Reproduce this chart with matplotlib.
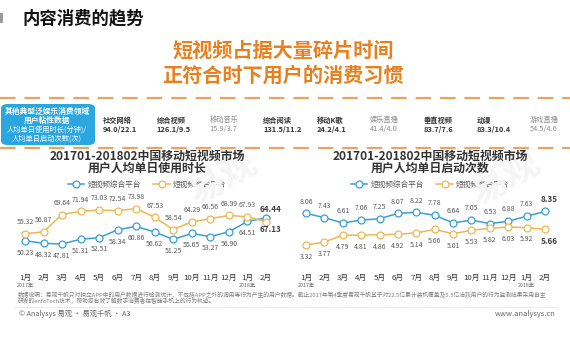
import matplotlib
matplotlib.use("Agg")
import matplotlib.pyplot as plt
from matplotlib.patches import FancyBboxPatch, Rectangle
from matplotlib.lines import Line2D
from matplotlib.transforms import blended_transform_factory

plt.rcParams['font.family'] = ['Noto Sans CJK SC', 'DejaVu Sans']

# ---------------------------------------------------------
# data
# ---------------------------------------------------------
months = ["1月", "2月", "3月", "4月", "5月", "6月", "7月", "8月",
          "9月", "10月", "11月", "12月", "1月", "2月"]

time_general = [50.23, 48.32, 47.81, 51.31, 52.51, 58.34, 60.86, 56.62,
                51.25, 55.65, 53.27, 56.90, 64.51, 67.13]
time_aggr = [55.32, 56.87, 69.64, 71.94, 73.03, 72.54, 73.98, 67.53,
             58.54, 64.29, 66.56, 68.99, 67.93, 64.44]

launch_general = [8.06, 7.43, 6.61, 7.06, 7.25, 8.07, 8.22, 7.78,
                  6.64, 7.05, 6.53, 6.88, 7.63, 8.35]
launch_aggr = [3.32, 3.77, 4.79, 4.81, 4.86, 4.92, 5.14, 5.66,
               5.01, 5.53, 5.82, 6.03, 5.92, 5.66]

series_names = ["短视频综合平台", "短视频聚合平台"]

fields = ["社交网络", "综合视频", "移动音乐", "综合阅读", "移动K歌",
          "娱乐直播", "垂直视频", "动漫", "游戏直播"]
field_values = ["94.0/22.1", "126.1/9.5", "15.9/3.7", "131.5/11.2", "24.2/4.1",
                "41.4/4.0", "83.7/7.6", "83.3/10.4", "54.5/4.6"]
field_muted = [False, False, True, False, False, True, False, False, True]

BLUE = "#3A9FD3"
YELLOW = "#EDB853"
ORANGE = "#E8801E"
GRAY = "#595959"

W, H = 570, 360


def fx(x):
    return x / W


def fy(y):
    return 1 - y / H


fig = plt.figure(figsize=(5.7, 3.6), dpi=100)

# ---------------------------------------------------------
# header
# ---------------------------------------------------------
fig.patches.append(Rectangle((0, fy(23)), fx(3), 10 / H, transform=fig.transFigure,
                             color="#9A9A9A", lw=0))
fig.text(fx(22), fy(18), "内容消费的趋势", fontsize=12.5, fontweight="bold",
         color="#111111", va="center", ha="left")

fig.text(fx(283), fy(50), "短视频占据大量碎片时间", fontsize=14.5, fontweight="bold",
         color=ORANGE, va="center", ha="center")
fig.text(fx(283), fy(75), "正符合时下用户的消费习惯", fontsize=14.5, fontweight="bold",
         color=ORANGE, va="center", ha="center")

for yy in (97.5, 148):
    fig.lines.append(Line2D([0, 1], [fy(yy), fy(yy)], transform=fig.transFigure,
                            color="#E9A463", lw=1.6, dashes=(7, 4)))

# blue info box
box = FancyBboxPatch((fx(1), fy(145)), fx(94), 41 / H, transform=fig.transFigure,
                     boxstyle="round,pad=0,rounding_size=0.012",
                     fc="#2AA7E1", ec="none")
fig.patches.append(box)
fig.text(fx(47), fy(111.5), "其他典型泛娱乐消费领域", fontsize=5.6, fontweight="bold",
         color="white", ha="center", va="center")
fig.text(fx(47), fy(120.5), "用户粘性数据", fontsize=5.6, fontweight="bold",
         color="white", ha="center", va="center")
fig.text(fx(47), fy(130), "人均单日使用时长(分钟)/", fontsize=5.2,
         color="white", ha="center", va="center")
fig.text(fx(47), fy(138.5), "人均单日启动次数(次)", fontsize=5.2,
         color="white", ha="center", va="center")

for i, (name, val, muted) in enumerate(zip(fields, field_values, field_muted)):
    x0 = 103 + i * 53.4
    col = "#8C8C8C" if muted else "#333333"
    wt = "normal" if muted else "bold"
    fig.text(fx(x0), fy(120), name, fontsize=5.2, color=col, fontweight=wt,
             ha="left", va="center")
    fig.text(fx(x0), fy(129), val, fontsize=5.4, color=col, fontweight=wt,
             ha="left", va="center")

# faint watermark
fig.text(fx(222), fy(178), "易观", fontsize=26, color="#F5F5F5", rotation=30,
         ha="center", va="center", zorder=0, fontweight="bold")
fig.text(fx(505), fy(178), "易观", fontsize=26, color="#F5F5F5", rotation=30,
         ha="center", va="center", zorder=0, fontweight="bold")


# ---------------------------------------------------------
# charts
# ---------------------------------------------------------
def draw_chart(left_px, width_px, x_first, x_last, ylim, s1, s1_up, s2, s2_up,
               fmt, title2, title_x):
    ax = fig.add_axes([fx(left_px), fy(272), fx(width_px), 77 / H])
    ax.patch.set_alpha(0)
    step = (x_last - x_first) / 13
    ax.set_xlim(-(x_first - left_px) / step, 13 + (left_px + width_px - x_last) / step)
    ax.set_ylim(*ylim)
    for s in ax.spines.values():
        s.set_visible(False)
    ax.set_yticks([])
    idx = list(range(len(months)))
    ax.set_xticks(idx)
    ax.set_xticklabels(months, fontsize=5.6, color="#333333")
    ax.tick_params(axis="x", length=0, pad=1.5)

    trans = blended_transform_factory(ax.transData, ax.transAxes)
    ax.text(0, -0.17, "2017年", fontsize=3.8, color="#666666", ha="center",
            va="center", transform=trans)
    ax.text(12, -0.17, "2018年", fontsize=3.8, color="#666666", ha="center",
            va="center", transform=trans)

    handles = []
    for vals, up, col, name in ((s1, s1_up, BLUE, series_names[0]),
                                (s2, s2_up, YELLOW, series_names[1])):
        ln, = ax.plot(idx, vals, color=col, lw=1.1, marker="o", markersize=5,
                      markerfacecolor="white", markeredgecolor=col,
                      markeredgewidth=0.9, label=name, zorder=3)
        handles.append(ln)
        for i, v in enumerate(vals):
            off = 8.5 if up else -8.5
            last = i == len(vals) - 1
            ax.annotate(fmt.format(v), (i, v), xytext=(3 if last else 0, off),
                        textcoords="offset points", ha="center", va="center",
                        fontsize=5.8 if last else 5,
                        fontweight="bold" if last else "normal",
                        color="#404040" if last else GRAY, zorder=4)

    ax.legend(handles=handles, loc="center", ncol=2, frameon=False,
              bbox_to_anchor=(fx(title_x), fy(185)), bbox_transform=fig.transFigure,
              fontsize=5.5, labelcolor=GRAY, handlelength=2.2, columnspacing=1.6,
              handletextpad=0.4, numpoints=1)

    fig.text(fx(title_x), fy(156), "201701-201802中国移动短视频市场", fontsize=8.6,
             fontweight="bold", color="#333333", ha="center", va="center")
    fig.text(fx(title_x), fy(168.5), title2, fontsize=8.6,
             fontweight="bold", color="#333333", ha="center", va="center")
    return ax


# left: time spent (yellow labels above, blue below)
draw_chart(10, 270, 25, 266, (27.07, 84.1), time_general, False, time_aggr, True,
           "{:.2f}", "用户人均单日使用时长", 147)

# right: launches (blue labels above, yellow below)
draw_chart(290, 275, 306, 545, (-0.73, 10.82), launch_general, True, launch_aggr, False,
           "{:.2f}", "用户人均单日启动次数", 430)

# ---------------------------------------------------------
# notes and footer
# ---------------------------------------------------------
fig.text(fx(18), fy(295), "数据说明：易观千帆只对独立APP中的用户数据进行检测统计，不包括APP之外的调用等行为产生的用户数据。"
         "截止2017年第4季度易观千帆基于对22.5亿累计装机覆盖及5.5亿活跃用户的行为监测结果采用自主",
         fontsize=4.15, color="#7F7F7F", ha="left", va="center")
fig.text(fx(18), fy(301), "研发的enfoTech技术，帮助您有效了解数字消费者在智能手机上的行为轨迹。",
         fontsize=4.15, color="#7F7F7F", ha="left", va="center")
fig.lines.append(Line2D([fx(15), fx(558)], [fy(306.5), fy(306.5)], transform=fig.transFigure,
                        color="#D0D0D0", lw=0.6, ls=(0, (1, 1))))
fig.text(fx(19), fy(314), "© Analysys 易观 · 易观千帆 · A3", fontsize=5.2,
         color="#666666", ha="left", va="center")
fig.text(fx(556), fy(314), "www.analysys.cn", fontsize=5.4,
         color="#666666", ha="right", va="center")

fig.savefig("out.png", dpi=100, facecolor="white")
